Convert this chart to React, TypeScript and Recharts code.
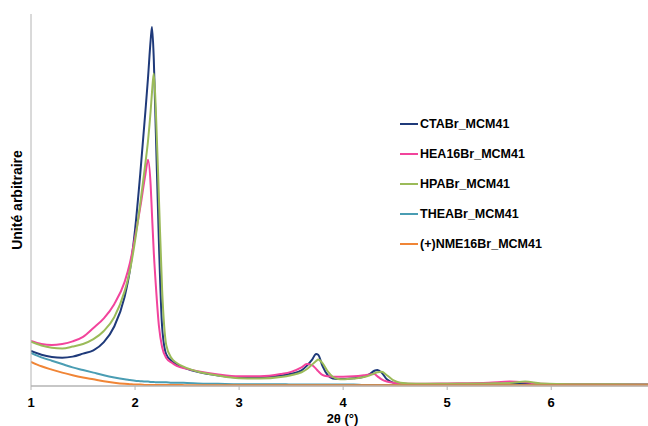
import { LineChart, Line, XAxis, YAxis } from 'recharts';

// 2θ positions (°) shared by every pattern
const twoTheta = [
  1, 1.1, 1.2, 1.3, 1.4, 1.5, 1.6, 1.7, 1.8, 1.9, 1.95, 2.0, 2.05, 2.1, 2.125, 2.15, 2.163, 2.18, 2.2, 2.23,
  2.26, 2.3, 2.35, 2.4, 2.5, 2.6, 2.8, 3.0, 3.2, 3.4, 3.5, 3.6, 3.65, 3.7, 3.74, 3.76, 3.8, 3.85, 3.9, 3.95,
  4.0, 4.1, 4.2, 4.25, 4.3, 4.33, 4.37, 4.42, 4.48, 4.55, 4.7, 5.0, 5.4, 5.6, 5.75, 5.9, 6.2, 6.6, 6.93,
];

const ctab = [
  9.4, 8.4, 7.8, 7.6, 7.9, 8.7, 9.6, 11.8, 16, 24, 31, 42, 57, 74, 83, 93, 96.5, 88, 68, 38,
  16, 8.5, 6.8, 5.8, 4.6, 3.8, 2.8, 2.3, 2.3, 2.8, 3.3, 4.2, 5.4, 7.0, 8.6, 8.4, 5.5, 3.0, 2.0, 1.9,
  1.9, 2.1, 2.5, 3.1, 4.1, 4.3, 3.6, 1.8, 0.9, 0.6, 0.5, 0.5, 0.5, 0.6, 0.7, 0.5, 0.4, 0.4, 0.4,
];

const hea16 = [
  12.1, 11.3, 11.0, 11.3, 12.0, 13.2, 15.6, 18.2, 22, 28, 33, 40, 48, 57, 60.8, 54, 46, 36, 27, 16,
  10.5, 7.5, 6.3, 5.4, 4.6, 4.0, 3.1, 2.6, 2.6, 3.2, 3.8, 5.0, 5.9, 5.6, 4.6, 4.0, 3.0, 2.6, 2.5, 2.5,
  2.5, 2.6, 2.9, 3.1, 3.2, 2.6, 1.8, 1.2, 0.9, 0.7, 0.6, 0.7, 0.9, 1.2, 1.0, 0.6, 0.5, 0.4, 0.4,
];

const hpab = [
  11.9, 10.9, 10.3, 10.1, 10.6, 11.3, 12.6, 14.8, 18.5, 25.5, 31, 39, 49, 60, 66, 74, 79, 84, 74, 50,
  26, 11, 7.5, 6.2, 4.8, 3.9, 2.8, 2.1, 2.0, 2.4, 2.9, 3.7, 4.5, 5.7, 6.7, 7.1, 6.2, 4.0, 2.5, 1.9,
  1.8, 2.0, 2.4, 2.8, 3.4, 3.7, 3.8, 2.9, 1.6, 0.9, 0.6, 0.6, 0.7, 0.8, 1.2, 0.7, 0.5, 0.5, 0.4,
];

const thea = [
  8.9, 7.7, 6.8, 5.9, 5.0, 4.3, 3.6, 2.9, 2.3, 1.8, 1.6, 1.4, 1.3, 1.2, 1.2, 1.1, 1.1, 1.1, 1.0, 1.0,
  1.0, 1.0, 0.9, 0.9, 0.8, 0.7, 0.6, 0.5, 0.5, 0.5, 0.4, 0.4, 0.4, 0.4, 0.4, 0.4, 0.4, 0.4, 0.4, 0.4,
  0.4, 0.4, 0.3, 0.3, 0.3, 0.3, 0.3, 0.3, 0.3, 0.3, 0.3, 0.3, 0.3, 0.3, 0.3, 0.3, 0.3, 0.3, 0.3,
];

const nme16 = [
  6.5, 5.3, 4.4, 3.6, 2.9, 2.3, 1.8, 1.3, 0.9, 0.6, 0.5, 0.4, 0.4, 0.3, 0.3, 0.3, 0.3, 0.3, 0.3, 0.3,
  0.3, 0.3, 0.3, 0.3, 0.2, 0.2, 0.2, 0.2, 0.2, 0.2, 0.2, 0.2, 0.2, 0.2, 0.2, 0.2, 0.2, 0.2, 0.2, 0.2,
  0.2, 0.2, 0.2, 0.2, 0.2, 0.2, 0.2, 0.2, 0.2, 0.2, 0.2, 0.2, 0.2, 0.2, 0.2, 0.2, 0.2, 0.2, 0.2,
];

const xTicks = [1, 2, 3, 4, 5, 6];

const series = [
  { key: 'ctab', name: 'CTABr_MCM41', color: '#1F3A7A' },
  { key: 'hea16', name: 'HEA16Br_MCM41', color: '#F2449C' },
  { key: 'hpab', name: 'HPABr_MCM41', color: '#9BBB59' },
  { key: 'thea', name: 'THEABr_MCM41', color: '#4A9DB3' },
  { key: 'nme16', name: '(+)NME16Br_MCM41', color: '#F08536' },
];

const data = twoTheta.map((x, i) => ({
  x,
  ctab: ctab[i],
  hea16: hea16[i],
  hpab: hpab[i],
  thea: thea[i],
  nme16: nme16[i],
}));

const font = 'Arial, "Liberation Sans", sans-serif';
const axisGrey = '#B4B4B4';

const LegendBox = () => (
  <div
    style={{
      position: 'absolute',
      left: 400,
      top: 109,
      fontFamily: font,
      fontWeight: 'bold',
      fontSize: 12.5,
      color: '#000',
    }}
  >
    {series.map((s) => (
      <div key={s.key} style={{ display: 'flex', alignItems: 'center', height: 30 }}>
        <div style={{ width: 18, height: 2.5, background: s.color, marginRight: 2 }} />
        <span>{s.name}</span>
      </div>
    ))}
  </div>
);

export default function App() {
  return (
    <div style={{ position: 'absolute', left: 0, top: 0, width: 648, height: 426, background: '#fff' }}>
      <LineChart width={648} height={426} data={data} margin={{ top: 14, right: 0, bottom: 0, left: 0 }}>
        <XAxis
          dataKey="x"
          type="number"
          domain={[1, 6.93]}
          allowDataOverflow
          ticks={xTicks}
          tickSize={4}
          tickMargin={8}
          tickLine={{ stroke: axisGrey }}
          axisLine={{ stroke: axisGrey, strokeWidth: 1.5 }}
          tick={{ fill: '#000', fontSize: 13, fontWeight: 'bold', fontFamily: font }}
          height={40}
          label={{
            value: '2θ (°)',
            position: 'insideBottom',
            offset: 3,
            dx: 3,
            fill: '#000',
            fontSize: 13,
            fontWeight: 'bold',
            fontFamily: font,
          }}
        />
        <YAxis
          type="number"
          domain={[0, 100]}
          width={31}
          tick={false}
          tickLine={false}
          axisLine={{ stroke: axisGrey, strokeWidth: 1 }}
          label={{
            value: 'Unité arbitraire',
            angle: -90,
            position: 'center',
            dx: 2,
            fill: '#000',
            fontSize: 14,
            fontWeight: 'bold',
            fontFamily: font,
          }}
        />
        {series.map((s) => (
          <Line
            key={s.key}
            dataKey={s.key}
            name={s.name}
            type="monotone"
            stroke={s.color}
            strokeWidth={2}
            dot={false}
            isAnimationActive={false}
          />
        ))}
      </LineChart>
      <LegendBox />
    </div>
  );
}
